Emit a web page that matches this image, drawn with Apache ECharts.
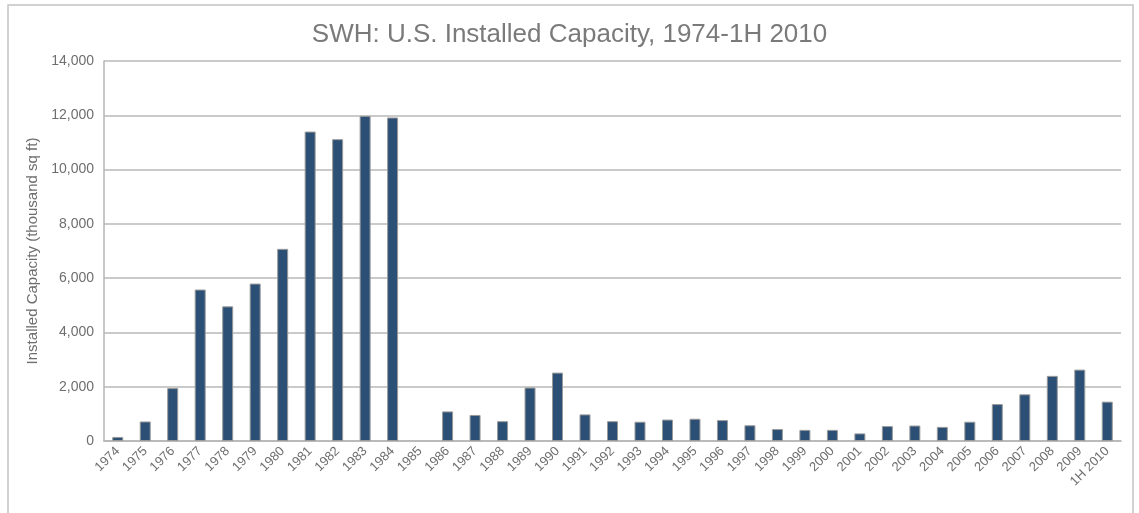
<!DOCTYPE html>
<html>
<head>
<meta charset="utf-8">
<script src="https://cdn.jsdelivr.net/npm/echarts@6/dist/echarts.min.js"></script>
<style>
  html, body { margin: 0; padding: 0; background: #fff; }
  #swh-capacity { width: 1139px; height: 513px; }
</style>
</head>
<body>
<div id="swh-capacity"></div>
<script>
  let years = ['1974', '1975', '1976', '1977', '1978', '1979', '1980', '1981', '1982', '1983',
    '1984', '1985', '1986', '1987', '1988', '1989', '1990', '1991', '1992', '1993',
    '1994', '1995', '1996', '1997', '1998', '1999', '2000', '2001', '2002', '2003',
    '2004', '2005', '2006', '2007', '2008', '2009', '1H 2010'];
  // thousand sq ft
  let capacity = [150, 720, 1950, 5580, 4960, 5800, 7080, 11400, 11120, 11980,
    11920, 0, 1090, 960, 730, 1970, 2520, 980, 730, 710,
    790, 820, 770, 580, 440, 410, 410, 280, 550, 570,
    520, 710, 1360, 1720, 2400, 2630, 1450];

  let myChart = echarts.init(document.getElementById('swh-capacity'));

  let option = {
    animation: false,
    textStyle: { fontFamily: 'Liberation Sans, Arial, sans-serif' },
    title: {
      text: 'SWH: U.S. Installed Capacity, 1974-1H 2010',
      left: 'center',
      top: 17,
      textStyle: {
        color: '#7a7a7a',
        fontSize: 26,
        fontWeight: 'normal'
      }
    },
    graphic: [{
      type: 'rect',
      shape: { x: 8, y: 5, width: 1125, height: 600 },
      style: { fill: 'none', stroke: '#c4c4c4', lineWidth: 1.5 },
      silent: true
    }],
    grid: {
      left: 104,
      right: 18,
      top: 61,
      bottom: 72
    },
    xAxis: {
      type: 'category',
      data: years,
      axisLine: { lineStyle: { color: '#b5b5b5', width: 1.5 } },
      axisTick: { length: 5, lineStyle: { color: '#b5b5b5' } },
      axisLabel: {
        rotate: 45,
        interval: 0,
        color: '#6e6e6e',
        fontSize: 13,
        margin: 8
      }
    },
    yAxis: {
      type: 'value',
      min: 0,
      max: 14000,
      interval: 2000,
      name: 'Installed Capacity (thousand sq ft)',
      nameLocation: 'middle',
      nameGap: 63,
      nameTextStyle: { color: '#6e6e6e', fontSize: 15 },
      axisLine: { show: true, lineStyle: { color: '#b5b5b5', width: 1.5 } },
      axisTick: { show: false },
      axisLabel: {
        color: '#6e6e6e',
        fontSize: 14,
        margin: 10,
        formatter: function (v) {
          return v.toLocaleString('en-US');
        }
      },
      splitLine: { lineStyle: { color: '#b8b8b8', width: 1.5 } }
    },
    series: [{
      name: 'Installed Capacity',
      type: 'bar',
      barWidth: 11,
      itemStyle: {
        color: '#2c5075',
        borderColor: '#9a9a9a',
        borderWidth: 1
      },
      // no outline on empty years
      data: capacity.map(function (v) {
        return v === 0 ? { value: v, itemStyle: { borderWidth: 0 } } : v;
      })
    }]
  };
  myChart.setOption(option);

  window.addEventListener('resize', function () {
    myChart.resize();
  });
</script>
</body>
</html>
